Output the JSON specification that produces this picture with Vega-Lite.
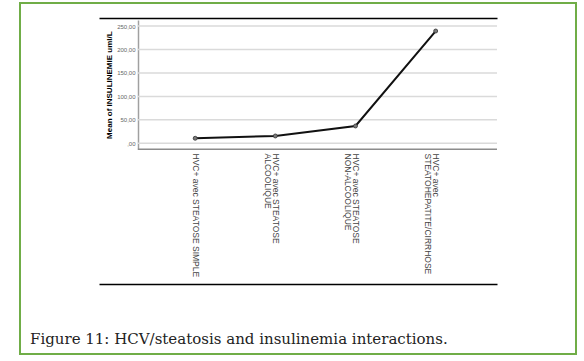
{
  "$schema": "https://vega.github.io/schema/vega-lite/v6.json",
  "width": 556,
  "height": 351,
  "autosize": {"type": "none"},
  "padding": {"left": 20, "top": 3, "right": 8, "bottom": 7},
  "background": "white",
  "config": {
    "view": {"stroke": "#70ad47", "strokeWidth": 2},
    "font": "Liberation Sans"
  },
  "title": {
    "text": "Figure 11: HCV/steatosis and insulinemia interactions.",
    "orient": "bottom",
    "anchor": "start",
    "frame": "group",
    "offset": -10,
    "dx": 10,
    "font": "DejaVu Serif",
    "fontSize": 15,
    "fontWeight": "normal",
    "color": "#222222",
    "baseline": "alphabetic"
  },
  "datasets": {
    "grid": [{"g": 0}, {"g": 50}, {"g": 100}, {"g": 150}, {"g": 200}, {"g": 250}],
    "means": [
      {"idx": 0, "group": "HVC+ avec STEATOSE SIMPLE", "mean": 10.7},
      {"idx": 1, "group": "HVC+ avec STEATOSE ALCOOLIQUE", "mean": 15.6},
      {"idx": 2, "group": "HVC+ avec STEATOSE NON-ALCOOLIQUE", "mean": 36.9},
      {"idx": 3, "group": "HVC+ avec STEATOHEPATITE/CIRRHOSE", "mean": 239.3}
    ]
  },
  "resolve": {"axis": {"x": "independent"}},
  "layer": [
    {
      "data": {"name": "grid"},
      "mark": {"type": "rule", "color": "#dadada", "strokeWidth": 1.5},
      "encoding": {
        "x": {"datum": -0.715, "type": "quantitative",
          "scale": {"domain": [-1.2, 3.765], "range": [79, 477], "nice": false, "zero": false},
          "axis": {"orient": "top", "offset": -15, "labels": false, "ticks": false, "grid": false, "title": null, "domainColor": "#000000", "domainWidth": 1.6}},
        "x2": {"datum": 3.765},
        "y": {"field": "g", "type": "quantitative",
          "scale": {"domain": [-12.8, 262.8], "range": [146.3, 17], "nice": false, "zero": false},
          "axis": {"orient": "left", "offset": -118, "values": [0, 50, 100, 150, 200, 250], "grid": false, "ticks": false,
            "labelExpr": "datum.value == 0 ? ',00' : replace(format(datum.value, '.2f'), '.', ',')",
            "labelFontSize": 6, "labelColor": "#666666", "labelPadding": 3,
            "domainColor": "#a0a0a0", "domainWidth": 1.5,
            "title": "Mean of INSULINEMIE uml/L", "titleFontSize": 8, "titleFontWeight": "bold", "titleColor": "#000000", "titlePadding": 3}}
      }
    },
    {
      "data": {"name": "grid"},
      "transform": [{"filter": "datum.g == 0"}],
      "mark": {"type": "rule", "color": "#8c8c8c", "strokeWidth": 1.5},
      "encoding": {
        "x": {"datum": -0.715, "type": "quantitative",
          "scale": {"domain": [-1.2, 3.765], "range": [79, 477], "nice": false, "zero": false},
          "axis": null},
        "x2": {"datum": 3.765},
        "y": {"datum": -12.8, "type": "quantitative",
          "scale": {"domain": [-12.8, 262.8], "range": [146.3, 17], "nice": false, "zero": false},
          "axis": {"orient": "left", "offset": -118, "values": [0, 50, 100, 150, 200, 250], "grid": false, "ticks": false,
            "labelExpr": "datum.value == 0 ? ',00' : replace(format(datum.value, '.2f'), '.', ',')",
            "labelFontSize": 6, "labelColor": "#666666", "labelPadding": 3,
            "domainColor": "#a0a0a0", "domainWidth": 1.5,
            "title": "Mean of INSULINEMIE uml/L", "titleFontSize": 8, "titleFontWeight": "bold", "titleColor": "#000000", "titlePadding": 3}}
      }
    },
    {
      "data": {"name": "means"},
      "mark": {"type": "line", "color": "#111111", "strokeWidth": 2},
      "encoding": {
        "x": {"field": "idx", "type": "quantitative",
          "scale": {"domain": [-1.2, 3.765], "range": [79, 477], "nice": false, "zero": false},
          "axis": {"orient": "bottom", "offset": -205, "values": [0, 1, 2, 3], "domain": false, "ticks": false, "grid": false, "title": null,
            "labelAngle": 90, "labelAlign": "left", "labelBaseline": "middle", "labelPadding": 4,
            "labelFontSize": 8.5, "labelLineHeight": 8, "labelColor": "#444444",
            "labelOverlap": false, "labelFlush": false, "labelBound": false, "labelLimit": 300,
            "labelExpr": "datum.value == 0 ? 'HVC+ avec STEATOSE SIMPLE' : datum.value == 1 ? ['HVC+ avec STEATOSE', 'ALCOOLIQUE'] : datum.value == 2 ? ['HVC+ avec STEATOSE', 'NON-ALCOOLIQUE'] : ['HVC+ avec', 'STEATOHEPATITE/CIRRHOSE']"}},
        "y": {"field": "mean", "type": "quantitative",
          "scale": {"domain": [-12.8, 262.8], "range": [146.3, 17], "nice": false, "zero": false},
          "axis": {"orient": "left", "offset": -118, "values": [0, 50, 100, 150, 200, 250], "grid": false, "ticks": false,
            "labelExpr": "datum.value == 0 ? ',00' : replace(format(datum.value, '.2f'), '.', ',')",
            "labelFontSize": 6, "labelColor": "#666666", "labelPadding": 3,
            "domainColor": "#a0a0a0", "domainWidth": 1.5,
            "title": "Mean of INSULINEMIE uml/L", "titleFontSize": 8, "titleFontWeight": "bold", "titleColor": "#000000", "titlePadding": 3}}
      }
    },
    {
      "data": {"name": "means"},
      "mark": {"type": "point", "shape": "circle", "filled": true, "size": 16, "color": "#7a7a7a", "stroke": "#333333", "strokeWidth": 0.8, "opacity": 1},
      "encoding": {
        "x": {"field": "idx", "type": "quantitative",
          "scale": {"domain": [-1.2, 3.765], "range": [79, 477], "nice": false, "zero": false},
          "axis": {"orient": "bottom", "offset": -70, "labels": false, "ticks": false, "grid": false, "title": null, "domainColor": "#000000", "domainWidth": 1.6}},
        "y": {"field": "mean", "type": "quantitative",
          "scale": {"domain": [-12.8, 262.8], "range": [146.3, 17], "nice": false, "zero": false},
          "axis": {"orient": "left", "offset": -118, "values": [0, 50, 100, 150, 200, 250], "grid": false, "ticks": false,
            "labelExpr": "datum.value == 0 ? ',00' : replace(format(datum.value, '.2f'), '.', ',')",
            "labelFontSize": 6, "labelColor": "#666666", "labelPadding": 3,
            "domainColor": "#a0a0a0", "domainWidth": 1.5,
            "title": "Mean of INSULINEMIE uml/L", "titleFontSize": 8, "titleFontWeight": "bold", "titleColor": "#000000", "titlePadding": 3}},
        "tooltip": {"field": "group", "type": "nominal"}
      }
    }
  ]
}
